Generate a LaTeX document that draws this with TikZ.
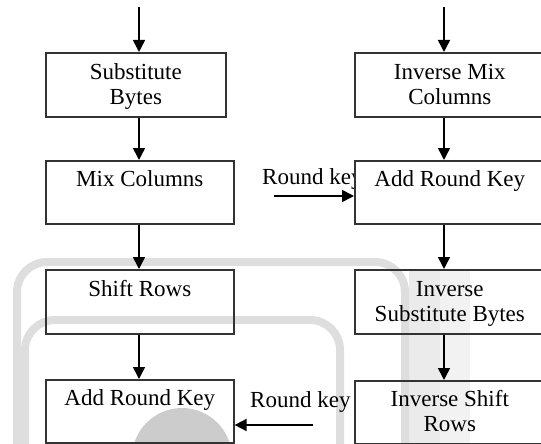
\documentclass[tikz,border=0pt]{standalone}
\usepackage{fontspec}
\setmainfont{Liberation Serif}
\usetikzlibrary{arrows.meta}
\newcommand\bxstrut{\rule[-5.5pt]{0pt}{25pt}}
\tikzset{
  boxnode/.style={draw=black!80, line width=1.6pt, rectangle, inner sep=0pt, anchor=north west, align=center, font=\fontsize{23}{25}\selectfont, text=black},
  arr/.style={draw=black, line width=1.6pt, -{Triangle[length=12pt,width=12pt]}},
  lbl/.style={inner sep=0pt, anchor=base west, font=\fontsize{23}{25}\selectfont, text=black},
  wm/.style={draw=black!13, line width=8pt, rounded corners=30pt},
}
\begin{document}
\begin{tikzpicture}[x=1pt,y=-1pt]
\useasboundingbox (0,0) rectangle (541,444);
% faded watermark
\fill[black!8] (409,270) rectangle (440,450);
\fill[black!5] (440,270) rectangle (470,450);
\draw[wm] (17,460) -- (17,262) -- (405,262) -- (405,460);
\draw[wm] (25,460) -- (25,320) -- (340,320) -- (340,460);
\fill[black!20] (182,458) circle (50);
% upper round key label (partly covered by the box)
\node[lbl] (lblA) at (262,184) {Round key};
% left column
\node[boxnode, minimum width=180pt, minimum height=64pt] (sb) at (45,52) {\bxstrut Substitute\\\bxstrut Bytes};
\node[boxnode, minimum width=188pt, minimum height=63pt] (mc) at (45,160) {\bxstrut Mix Columns\\\bxstrut};
\node[boxnode, minimum width=188pt, minimum height=64pt] (sr) at (45,269) {\bxstrut Shift Rows\\\bxstrut};
\node[boxnode, minimum width=188pt, minimum height=63pt] (akL) at (45,379) {\bxstrut Add Round Key\\\bxstrut};
% right column
\node[boxnode, minimum width=190pt, minimum height=64pt] (imc) at (354,52) {\bxstrut Inverse Mix\\\bxstrut Columns};
\node[boxnode, fill=white, minimum width=190pt, minimum height=63pt] (akR) at (354,160) {\bxstrut Add Round Key\\\bxstrut};
\node[boxnode, minimum width=190pt, minimum height=64pt] (isb) at (354,269) {\bxstrut Inverse\\\bxstrut Substitute Bytes};
\node[boxnode, minimum width=190pt, minimum height=63pt] (isr) at (354,380) {\bxstrut Inverse Shift\\\bxstrut Rows};
% lower round key label
\node[lbl] (lblB) at (250,407) {Round key};
% free ends
\coordinate (tL) at (139,7);
\coordinate (tR) at (444,7);
\coordinate (rkA) at (274,196);
\coordinate (rkB) at (313,425);
% arrows left
\draw[arr] (tL) -- (tL |- sb.north);
\draw[arr] (sb.south -| tL) -- (mc.north -| tL);
\draw[arr] (mc.south -| tL) -- (sr.north -| tL);
\draw[arr] (sr.south -| tL) -- (akL.north -| tL);
% arrows right
\draw[arr] (tR) -- (tR |- imc.north);
\draw[arr] (imc.south -| tR) -- (akR.north -| tR);
\draw[arr] (akR.south -| tR) -- (isb.north -| tR);
\draw[arr] (isb.south -| tR) -- (isr.north -| tR);
% round key arrows
\draw[arr] (rkA) -- (rkA -| akR.west);
\draw[arr] (rkB) -- (rkB -| akL.east);
\end{tikzpicture}
\end{document}
